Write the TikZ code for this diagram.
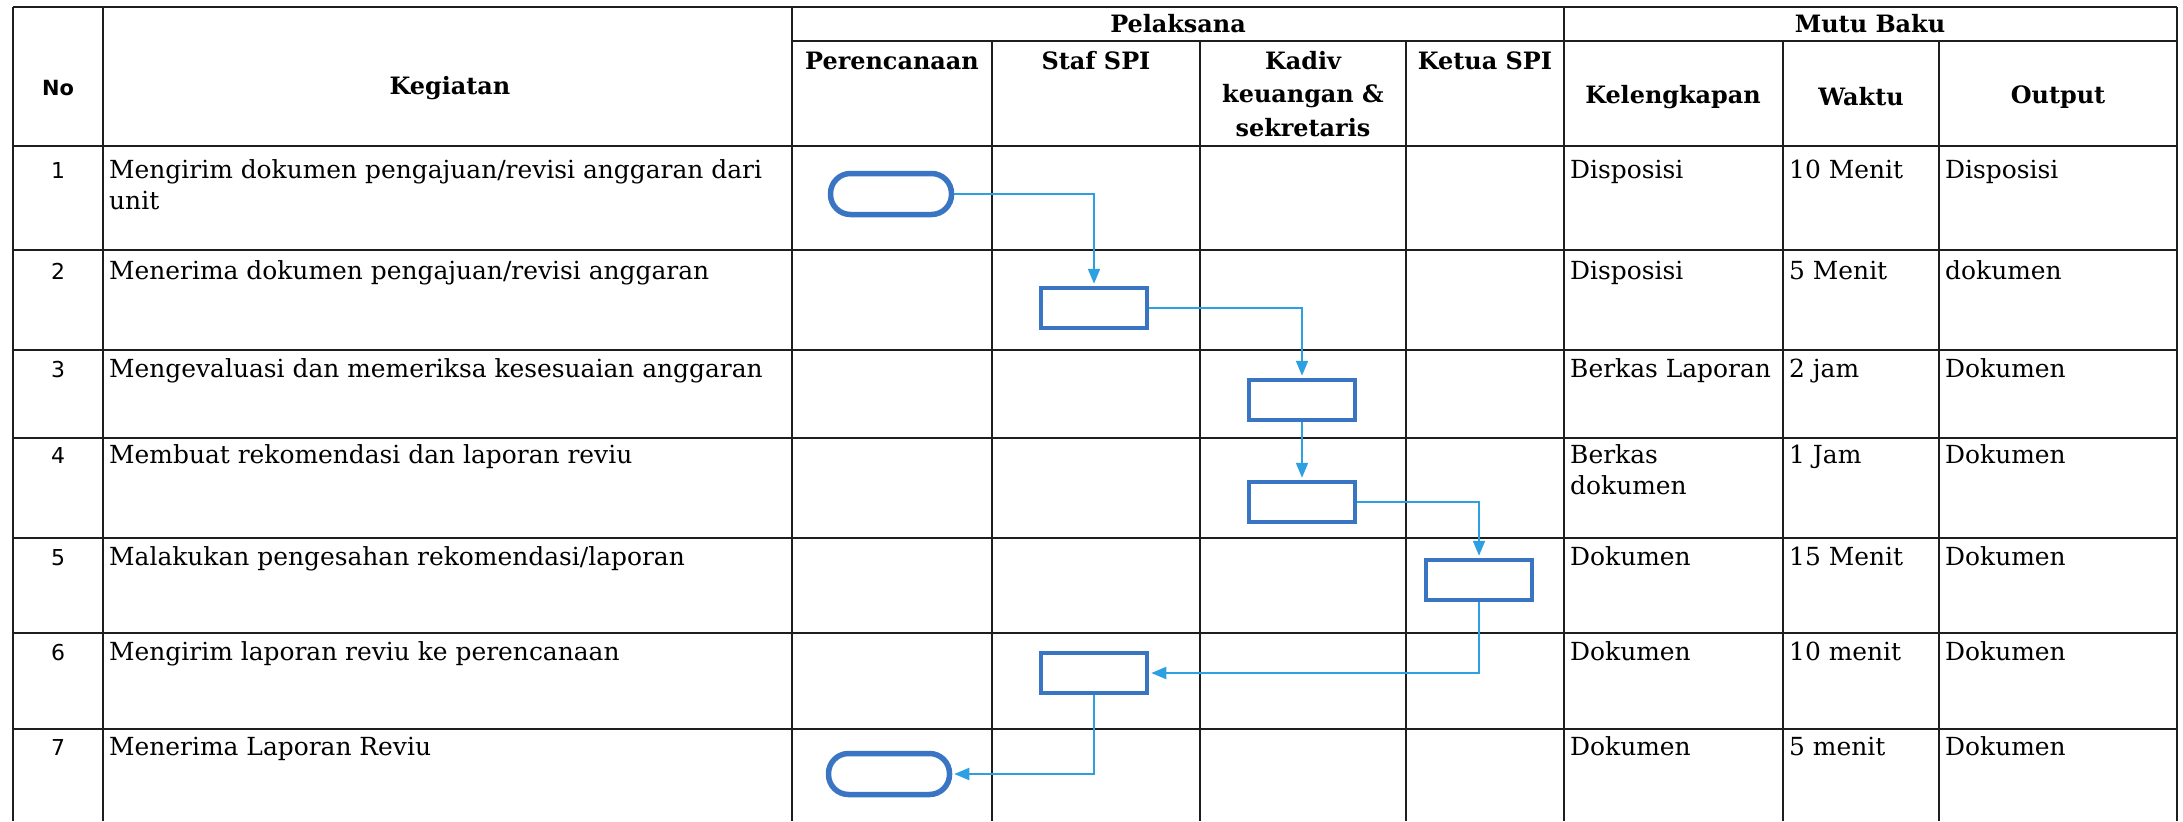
\documentclass[tikz,border=0pt]{standalone}
\usepackage{fontspec}
\setmainfont{DejaVu Serif}
\newfontfamily\nofont{DejaVu Sans}
\usetikzlibrary{
	arrows.meta,
}
\definecolor{kotak}{RGB}{58,117,196}
\definecolor{panah}{RGB}{45,160,225}
\definecolor{garis}{RGB}{30,30,30}

\begin{document}
\begin{tikzpicture}[x=1bp, y=-1bp,
		grid/.style={draw=garis, line width=2.2bp},
		judul/.style={font=\bfseries\fontsize{24}{34}\selectfont, align=center, inner sep=0pt},
		isi/.style={font=\fontsize{25}{31}\selectfont, anchor=base west, align=left, inner sep=0pt},
		nomor/.style={font=\nofont\fontsize{22}{26}\selectfont, anchor=base, inner sep=0pt},
		proses/.style={draw=kotak, line width=4.5bp, minimum width=106bp, minimum height=40bp, inner sep=0pt},
		terminal/.style={draw=kotak, line width=5.5bp, rounded corners=20bp, minimum width=121bp, minimum height=41bp, inner sep=0pt},
		alur/.style={draw=panah, line width=2bp, shorten >=2bp, -{Triangle[length=15bp, width=12bp]}},
	]
				\useasboundingbox (0,0) rectangle (2183,821);
				% garis tabel
				\draw[grid] (13,7) -- (2177,7);
				\draw[grid] (792,41) -- (2177,41);
				\draw[grid] (13,146) -- (2177,146);
				\draw[grid] (13,250) -- (2177,250);
				\draw[grid] (13,350) -- (2177,350);
				\draw[grid] (13,438) -- (2177,438);
				\draw[grid] (13,538) -- (2177,538);
				\draw[grid] (13,633) -- (2177,633);
				\draw[grid] (13,729) -- (2177,729);
				\draw[grid] (13,7) -- (13,821);
				\draw[grid] (103,7) -- (103,821);
				\draw[grid] (792,7) -- (792,821);
				\draw[grid] (992,41) -- (992,821);
				\draw[grid] (1200,41) -- (1200,821);
				\draw[grid] (1406,41) -- (1406,821);
				\draw[grid] (1564,7) -- (1564,821);
				\draw[grid] (1783,41) -- (1783,821);
				\draw[grid] (1939,41) -- (1939,821);
				\draw[grid] (2177,7) -- (2177,821);
				% kepala tabel
				\node[judul, font=\nofont\bfseries\fontsize{21}{24}\selectfont] (hno) at (58,88) {No};
				\node[judul] (hkeg) at (450,88) {Kegiatan};
				\node[judul] (hpel) at (1178,24) {Pelaksana};
				\node[judul] (hmutu) at (1870,24) {Mutu Baku};
				\node[judul] (hper) at (892,61) {Perencanaan};
				\node[judul] (hstaf) at (1096,61) {Staf SPI};
				\node[judul] (hkadiv) at (1303,94) {Kadiv\\keuangan \&\\sekretaris};
				\node[judul] (hketua) at (1485,61) {Ketua SPI};
				\node[judul] (hkel) at (1673,97) {Kelengkapan};
				\node[judul] (hwaktu) at (1861,97) {Waktu};
				\node[judul] (hout) at (2058,97) {Output};
				% baris 1
				\node[nomor] (n1) at (58,178) {1};
				\node[isi] (k1) at (109,209) {Mengirim dokumen pengajuan/revisi anggaran dari\\unit};
				\node[isi] (l1) at (1570,178) {Disposisi};
				\node[isi] (w1) at (1789,178) {10 Menit};
				\node[isi] (o1) at (1945,178) {Disposisi};
				% baris 2
				\node[nomor] (n2) at (58,279) {2};
				\node[isi] (k2) at (109,279) {Menerima dokumen pengajuan/revisi anggaran};
				\node[isi] (l2) at (1570,279) {Disposisi};
				\node[isi] (w2) at (1789,279) {5 Menit};
				\node[isi] (o2) at (1945,279) {dokumen};
				% baris 3
				\node[nomor] (n3) at (58,377) {3};
				\node[isi] (k3) at (109,377) {Mengevaluasi dan memeriksa kesesuaian anggaran};
				\node[isi] (l3) at (1570,377) {Berkas Laporan};
				\node[isi] (w3) at (1789,377) {2 jam};
				\node[isi] (o3) at (1945,377) {Dokumen};
				% baris 4
				\node[nomor] (n4) at (58,463) {4};
				\node[isi] (k4) at (109,463) {Membuat rekomendasi dan laporan reviu};
				\node[isi] (l4) at (1570,494) {Berkas\\dokumen};
				\node[isi] (w4) at (1789,463) {1 Jam};
				\node[isi] (o4) at (1945,463) {Dokumen};
				% baris 5
				\node[nomor] (n5) at (58,565) {5};
				\node[isi] (k5) at (109,565) {Malakukan pengesahan rekomendasi/laporan};
				\node[isi] (l5) at (1570,565) {Dokumen};
				\node[isi] (w5) at (1789,565) {15 Menit};
				\node[isi] (o5) at (1945,565) {Dokumen};
				% baris 6
				\node[nomor] (n6) at (58,660) {6};
				\node[isi] (k6) at (109,660) {Mengirim laporan reviu ke perencanaan};
				\node[isi] (l6) at (1570,660) {Dokumen};
				\node[isi] (w6) at (1789,660) {10 menit};
				\node[isi] (o6) at (1945,660) {Dokumen};
				% baris 7
				\node[nomor] (n7) at (58,755) {7};
				\node[isi] (k7) at (109,755) {Menerima Laporan Reviu};
				\node[isi] (l7) at (1570,755) {Dokumen};
				\node[isi] (w7) at (1789,755) {5 menit};
				\node[isi] (o7) at (1945,755) {Dokumen};
				% simbol alur
				\node[terminal] (mulai) at (891,194) {};
				\node[proses] (staf1) at (1094,308) {};
				\node[proses] (kadiv1) at (1302,400) {};
				\node[proses] (kadiv2) at (1302,502) {};
				\node[proses] (ketua) at (1479,580) {};
				\node[proses] (staf2) at (1094,673) {};
				\node[terminal] (selesai) at (889,774) {};
				\draw[alur] (mulai.east) -| (staf1.north);
				\draw[alur] (staf1.east) -| (kadiv1.north);
				\draw[alur] (kadiv1.south) -- (kadiv2.north);
				\draw[alur] (kadiv2.east) -| (ketua.north);
				\draw[alur] (ketua.south) |- (staf2.east);
				\draw[alur] (staf2.south) |- (selesai.east);
\end{tikzpicture}
\end{document}
